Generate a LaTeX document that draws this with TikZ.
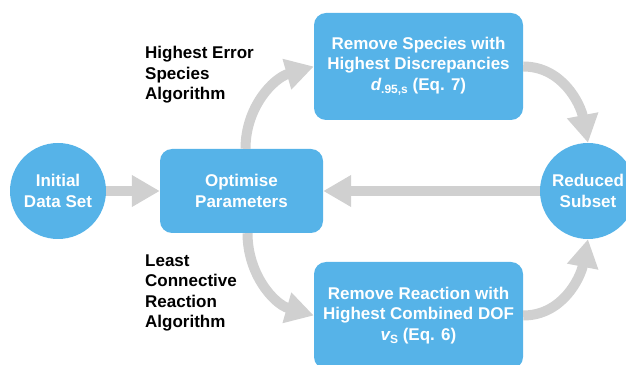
\documentclass[tikz,border=0pt]{standalone}
\usepackage{fontspec}
\setmainfont{Liberation Sans}
\usetikzlibrary{arrows.meta}
\definecolor{boxblue}{RGB}{86,179,232}
\definecolor{flowgray}{RGB}{208,208,208}
\newcommand{\lowsub}[1]{\raisebox{-3.5pt}{\fontsize{12}{12}\selectfont #1}}

\begin{document}
\begin{tikzpicture}[x=1pt,y=1pt,
  txt/.style={font=\fontsize{17}{20.5}\selectfont\bfseries},
  stage/.style={txt, fill=boxblue, text=white, rounded corners=12pt, align=center, inner sep=0pt},
  endpt/.style={txt, circle, fill=boxblue, text=white, minimum size=96pt, inner sep=0pt, align=center},
  flow/.style={draw=flowgray, line width=10pt, -{Triangle[length=28pt,width=30pt]}},
  algo/.style={txt, align=left, anchor=west, inner sep=0pt}
]
\useasboundingbox (0,0) rectangle (626,364);

% process stages
\node[endpt] (init) at (58,173) {Initial\\Data Set};
\node[stage, minimum width=163pt, minimum height=84pt] (opt) at (241.5,173) {Optimise\\Parameters};
\node[stage, minimum width=209pt, minimum height=107pt] (rs) at (418.5,297.5)
  {Remove Species with\\Highest Discrepancies\\{\itshape d}\lowsub{.95,s} (Eq. 7)};
\node[stage, minimum width=209pt, minimum height=107pt] (rr) at (418.5,48.5)
  {Remove Reaction with\\Highest Combined DOF\\{\itshape v}\lowsub{S} (Eq. 6)};
\node[endpt] (red) at (588,173) {Reduced\\Subset};

% algorithm labels
\node[algo] (hes) at (145,289) {Highest Error\\Species\\Algorithm};
\node[algo] (lcr) at (145,71) {Least\\Connective\\Reaction\\Algorithm};

% flow arrows
\draw[flow] (init) -- (opt);
\draw[flow] (red) -- (opt);
\draw[flow] ([xshift=4pt]opt.north) to[out=90,in=196] (rs.west);
\draw[flow] (rs.east) to[out=0,in=101] (red.north);
\draw[flow] ([xshift=6pt]opt.south) to[out=-90,in=164] (rr.west);
\draw[flow] (rr.east) to[out=0,in=-101] (red.south);
\end{tikzpicture}
\end{document}
